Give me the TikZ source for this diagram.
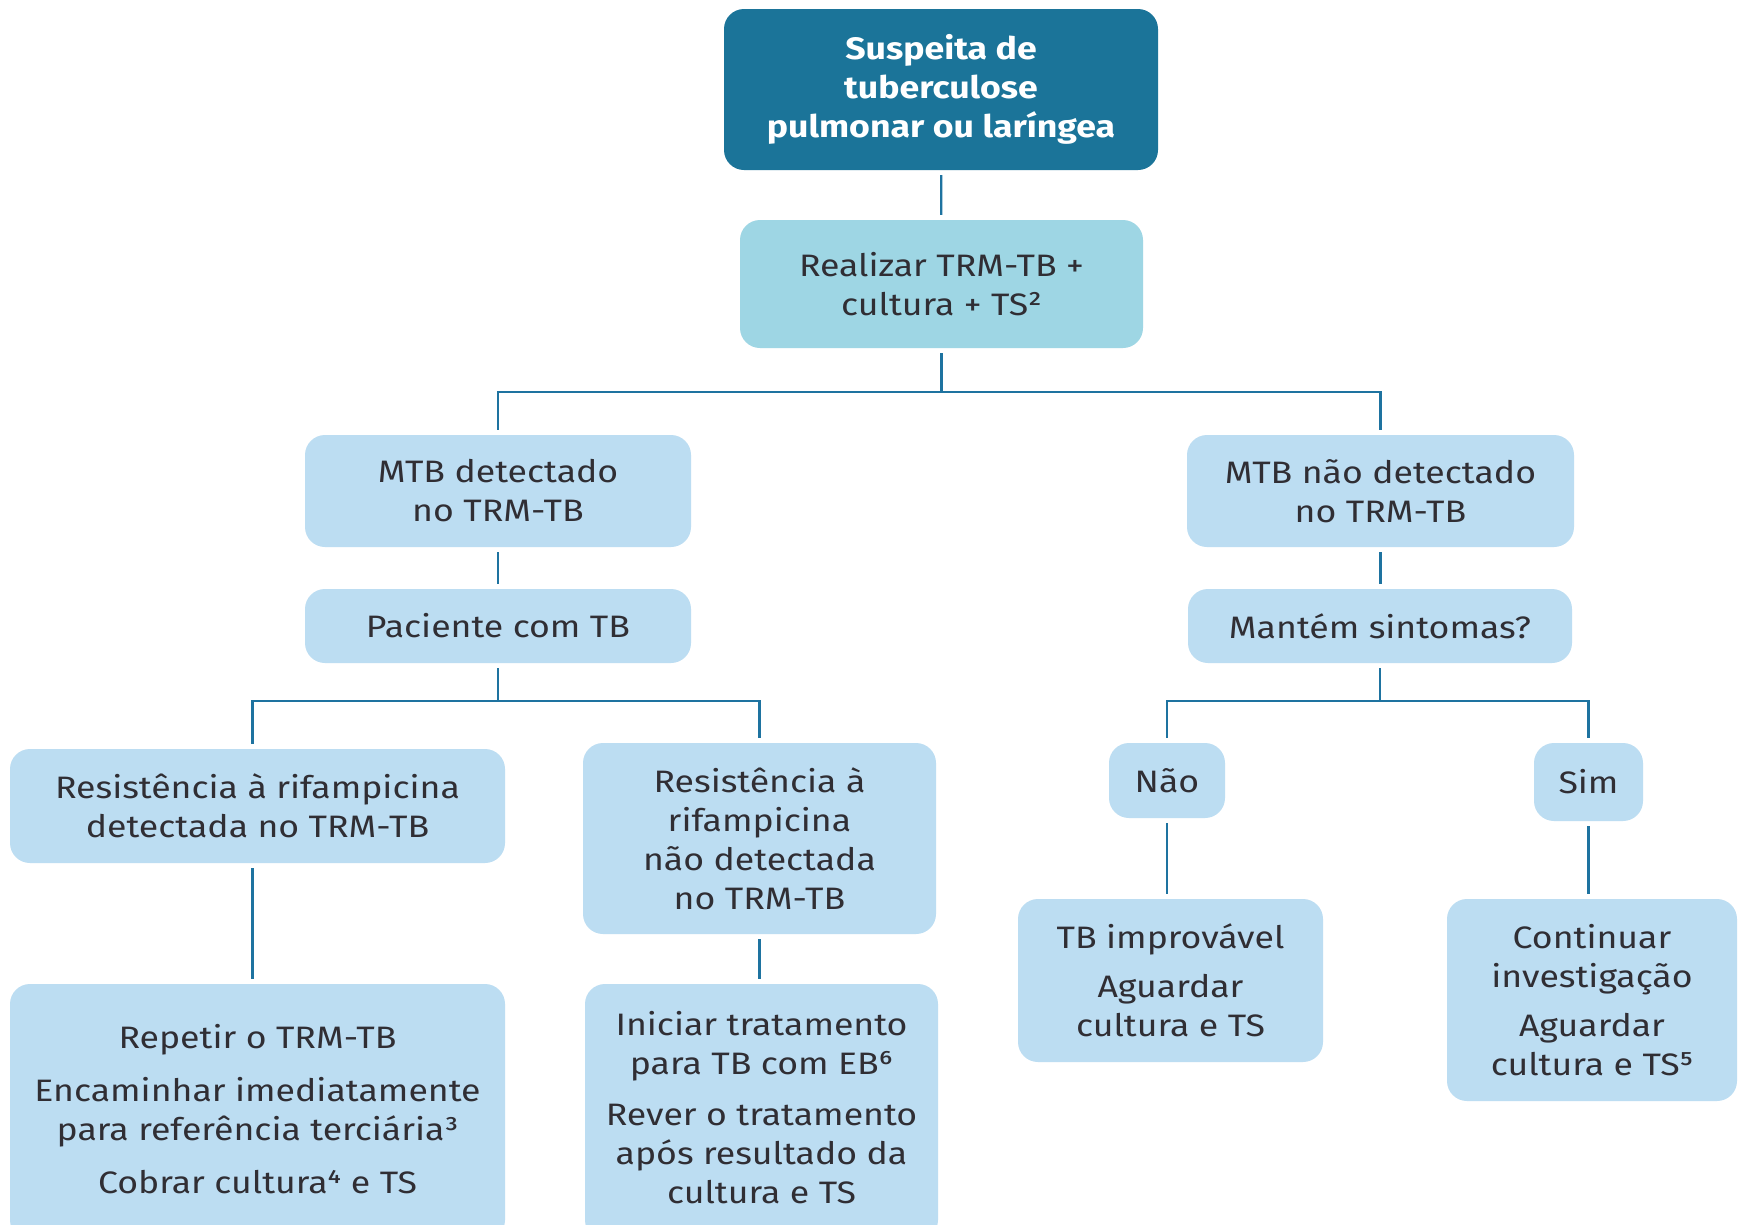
\documentclass[tikz,border=0pt]{standalone}
\usepackage{fontspec}
\setmainfont{Fira Sans}[FakeStretch=1.15]
\usetikzlibrary{calc}
\definecolor{deep}{RGB}{27,116,153}
\definecolor{aqua}{RGB}{158,214,228}
\definecolor{pale}{RGB}{188,221,242}
\definecolor{ink}{RGB}{48,46,52}
\definecolor{wire}{RGB}{30,115,160}
\tikzset{
  box/.style={rounded corners=20pt, inner sep=0pt, align=center, text=ink,
    font=\fontsize{31}{39}\selectfont},
  headbox/.style={box, fill=deep, text=white, font=\fontsize{31}{39}\selectfont\bfseries},
  aquabox/.style={box, fill=aqua},
  palebox/.style={box, fill=pale},
  conn/.style={draw=wire, line width=2.2pt},
  gap/.style={shorten <=5pt, shorten >=5pt}
}
\begin{document}
\begin{tikzpicture}[x=1pt, y=-1pt]
\useasboundingbox (0,0) rectangle (1740,1224);
\clip (0,0) rectangle (1740,1224);
\fill[white] (0,0) rectangle (1740,1224);

% boxes
\node[headbox, minimum width=434, minimum height=161] (top) at (941,89.5)
  {Suspeita de\\tuberculose\\pulmonar ou laríngea};
\node[aquabox, minimum width=403, minimum height=128] (trm) at (941.5,284)
  {Realizar TRM-TB +\\cultura + TS²};
\node[palebox, minimum width=386, minimum height=112] (det) at (498,491)
  {MTB detectado\\no TRM-TB};
\node[palebox, minimum width=387, minimum height=112] (ndet) at (1380.5,491)
  {MTB não detectado\\no TRM-TB};
\node[palebox, minimum width=386, minimum height=74] (pac) at (498,626)
  {Paciente com TB};
\node[palebox, minimum width=384, minimum height=74] (mant) at (1380,626)
  {Mantém sintomas?};
\node[palebox, minimum width=495, minimum height=114] (rdet) at (257.5,806)
  {Resistência à rifampicina\\detectada no TRM-TB};
\node[palebox, minimum width=353, minimum height=191] (rndet) at (759.5,838.5)
  {Resistência à\\rifampicina\\não detectada\\no TRM-TB};
\node[palebox, minimum width=116, minimum height=75] (nao) at (1167,780.5)
  {Não};
\node[palebox, minimum width=109, minimum height=78] (sim) at (1588.5,782)
  {Sim};
% the two lowest boxes run past the lower edge of the page
\node[palebox, minimum width=495, minimum height=256] (rep) at (257.5,1112) {};
\node[align=center, text=ink, font=\fontsize{31}{39}\selectfont, inner sep=0pt]
  (reptxt) at (257.5,1109)
  {Repetir o TRM-TB\\[14pt]Encaminhar imediatamente\\para referência terciária³\\[14pt]Cobrar cultura⁴ e TS};
\node[palebox, minimum width=353, minimum height=256] (ini) at (761.5,1112) {};
\node[align=center, text=ink, font=\fontsize{31}{39}\selectfont, inner sep=0pt]
  (initxt) at (761.5,1108)
  {Iniciar tratamento\\para TB com EB⁶\\[12pt]Rever o tratamento\\após resultado da\\cultura e TS};
\node[palebox, minimum width=305, minimum height=163] (tbi) at (1170.5,980.5)
  {TB improvável\\[10pt]Aguardar\\cultura e TS};
\node[palebox, minimum width=290, minimum height=202] (cont) at (1592,1000)
  {Continuar\\investigação\\[10pt]Aguardar\\cultura e TS⁵};

% branch levels
\coordinate (b1) at (941,392);
\coordinate (b2) at (498,701);
\coordinate (b3) at (1380,701);
\coordinate (rdetjoin) at ($(rdet.north)+(-5,0)$);
\coordinate (rdetfoot) at ($(rdet.south)+(-5,0)$);

% connectors
\draw[conn, gap] (top) -- (trm);
\draw[conn, shorten <=5pt] (trm.south) -- (trm.south |- b1);
\draw[conn, gap] (det.north) -- (det.north |- b1) -- (ndet.north |- b1) -- (ndet.north);
\draw[conn, gap] (det) -- (pac);
\draw[conn, gap] (ndet.south) -- (ndet.south |- mant.north);
\draw[conn, shorten <=5pt] (pac.south) -- (pac.south |- b2);
\draw[conn, gap] (rdetjoin) -- (rdetjoin |- b2) -- (rndet.north |- b2) -- (rndet.north);
\draw[conn, shorten <=5pt] (mant.south) -- (mant.south |- b3);
\draw[conn, gap] (nao.north) -- (nao.north |- b3) -- (sim.north |- b3) -- (sim.north);
\draw[conn, gap] (rdetfoot) -- (rdetfoot |- rep.north);
\draw[conn, gap] (rndet.south) -- (rndet.south |- ini.north);
\draw[conn, gap] (nao.south) -- (nao.south |- tbi.north);
\draw[conn, gap] (sim.south) -- (sim.south |- cont.north);
\end{tikzpicture}
\end{document}
